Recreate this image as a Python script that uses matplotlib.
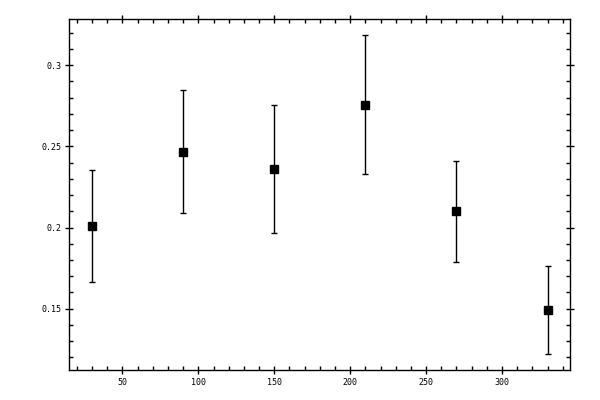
import matplotlib
matplotlib.use("Agg")
import matplotlib.pyplot as plt
from matplotlib.ticker import MultipleLocator, FormatStrFormatter

# data
x_vals = [30, 90, 150, 210, 270, 330]
y_vals = [0.201, 0.2467, 0.2362, 0.2757, 0.2099, 0.1492]
y_err = [0.0346, 0.0377, 0.0395, 0.0426, 0.0312, 0.0271]

fig = plt.figure(figsize=(6, 4), dpi=100)
ax = fig.add_axes([0.1155, 0.075, 0.835, 0.877])

ax.errorbar(x_vals, y_vals, yerr=y_err, fmt="s", color="black",
            markersize=5.5, elinewidth=1, capsize=2.5, capthick=1)

ax.set_xlim(15, 345)
ax.set_ylim(0.1123, 0.3282)

ax.xaxis.set_major_locator(MultipleLocator(50))
ax.xaxis.set_minor_locator(MultipleLocator(10))
ax.yaxis.set_major_locator(MultipleLocator(0.05))
ax.yaxis.set_minor_locator(MultipleLocator(0.01))
ax.yaxis.set_major_formatter(FormatStrFormatter("%g"))

ax.tick_params(which="major", direction="inout", length=5.5, width=1,
               top=True, right=True, labelsize=6, pad=3)
ax.tick_params(which="minor", direction="in", length=3, width=1,
               top=True, right=True)
for lbl in ax.get_xticklabels() + ax.get_yticklabels():
    lbl.set_family("DejaVu Sans Mono")
for sp in ax.spines.values():
    sp.set_linewidth(1)

fig.savefig("out.png", dpi=100)
